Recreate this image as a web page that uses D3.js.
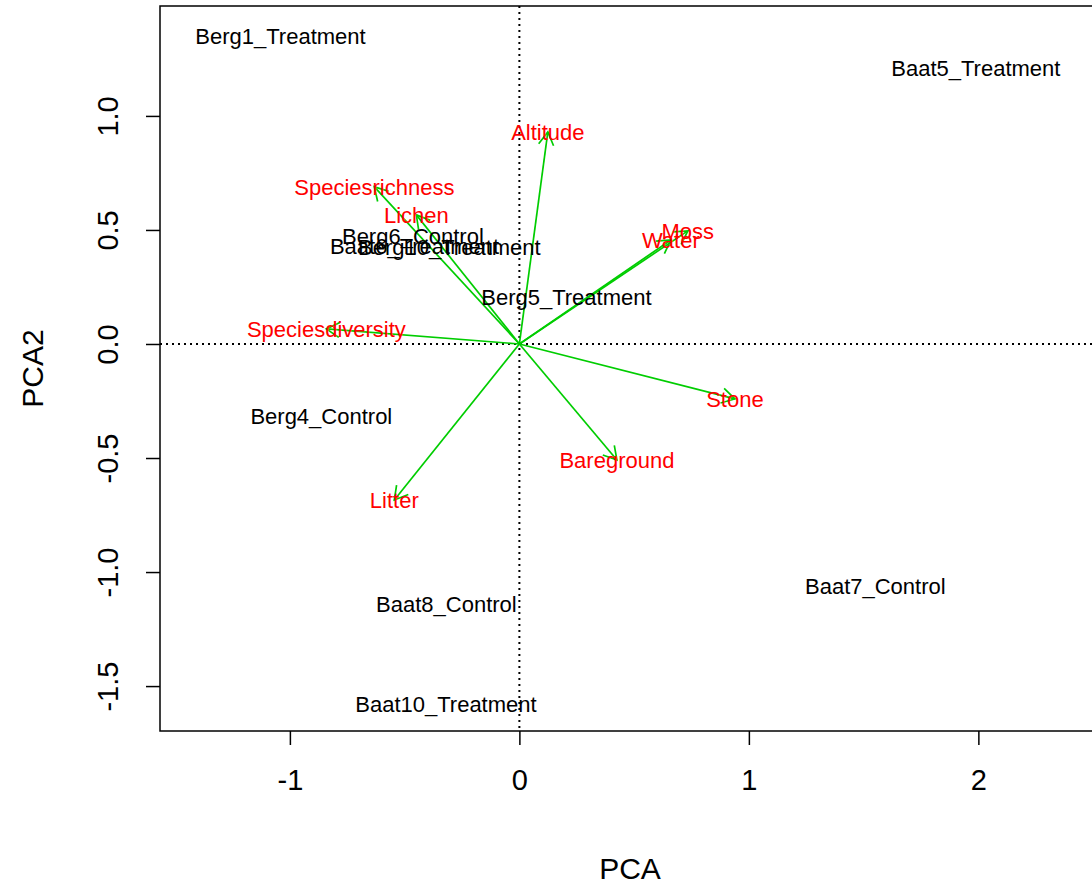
<!DOCTYPE html>
<html>
<head>
<meta charset="utf-8">
<script src="https://cdn.jsdelivr.net/npm/d3@7"></script>
<style>
  html, body { margin: 0; padding: 0; background: #fff; }
  svg { display: block; }
  text { font-family: "Liberation Sans", Arial, sans-serif; }
</style>
</head>
<body>
<svg id="chart" width="1092" height="887"></svg>
<script>
// Site scores (first two principal components)
const sites = ["Berg1_Treatment", "Baat5_Treatment", "Berg6_Control", "Baat6_Treatment",
               "Berg10_Treatment", "Berg5_Treatment", "Berg4_Control", "Baat8_Control",
               "Baat7_Control", "Baat10_Treatment"];
const siteX = [-1.041, 1.989, -0.464, -0.457, -0.305, 0.205, -0.863, -0.318, 1.551, -0.320];
const siteY = [1.350, 1.210, 0.474, 0.429, 0.424, 0.206, -0.316, -1.141, -1.062, -1.579];

// Variable loadings
const variables = ["Altitude", "Speciesrichness", "Lichen", "Moss", "Water",
                   "Speciesdiversity", "Stone", "Bareground", "Litter"];
const loadX = [0.124, -0.632, -0.449, 0.734, 0.660, -0.841, 0.939, 0.425, -0.545];
const loadY = [0.930, 0.689, 0.566, 0.496, 0.456, 0.066, -0.241, -0.509, -0.684];

const xTicks = [-1, 0, 1, 2];
const xTickLabels = ["-1", "0", "1", "2"];
const yTicks = [-1.5, -1.0, -0.5, 0.0, 0.5, 1.0];
const yTickLabels = ["-1.5", "-1.0", "-0.5", "0.0", "0.5", "1.0"];

const plot = { left: 160, right: 1100, top: 6, bottom: 731 };

const x = d3.scaleLinear().domain([-1.566, 2.530]).range([plot.left, plot.right]);
const y = d3.scaleLinear().domain([-1.697, 1.482]).range([plot.bottom, plot.top]);

const svg = d3.select("#chart");

// reference lines through the origin
svg.append("line")
  .attr("x1", x(0)).attr("x2", x(0))
  .attr("y1", plot.top).attr("y2", plot.bottom)
  .attr("stroke", "#000").attr("stroke-width", 2)
  .attr("stroke-dasharray", "2,4");
svg.append("line")
  .attr("x1", plot.left).attr("x2", plot.right)
  .attr("y1", y(0)).attr("y2", y(0))
  .attr("stroke", "#000").attr("stroke-width", 2)
  .attr("stroke-dasharray", "2,4");

// loading arrows
const arrows = svg.append("g").attr("stroke", "#00CD00").attr("stroke-width", 1.7).attr("fill", "none");
const headLen = 15, headAng = Math.PI / 6;
variables.forEach((v, i) => {
  const x0 = x(0), y0 = y(0), x1 = x(loadX[i]), y1 = y(loadY[i]);
  arrows.append("line").attr("x1", x0).attr("y1", y0).attr("x2", x1).attr("y2", y1);
  const a = Math.atan2(y1 - y0, x1 - x0);
  const p1 = [x1 - headLen * Math.cos(a - headAng), y1 - headLen * Math.sin(a - headAng)];
  const p2 = [x1 - headLen * Math.cos(a + headAng), y1 - headLen * Math.sin(a + headAng)];
  arrows.append("path").attr("d", `M${p1[0]},${p1[1]}L${x1},${y1}L${p2[0]},${p2[1]}`);
});

// site labels
svg.append("g").selectAll("text").data(sites).join("text")
  .attr("x", (d, i) => x(siteX[i]))
  .attr("y", (d, i) => y(siteY[i]))
  .attr("dy", "0.35em")
  .attr("text-anchor", "middle")
  .attr("font-size", 22)
  .attr("fill", "#000")
  .text(d => d);

// variable labels
svg.append("g").selectAll("text").data(variables).join("text")
  .attr("x", (d, i) => x(loadX[i]))
  .attr("y", (d, i) => y(loadY[i]))
  .attr("dy", "0.35em")
  .attr("text-anchor", "middle")
  .attr("font-size", 22)
  .attr("fill", "#FF0000")
  .text(d => d);

// plot frame
svg.append("rect")
  .attr("x", plot.left).attr("y", plot.top)
  .attr("width", plot.right - plot.left).attr("height", plot.bottom - plot.top)
  .attr("fill", "none").attr("stroke", "#000").attr("stroke-width", 1.5);

// axes
const xAxis = svg.append("g")
  .attr("transform", `translate(0,${plot.bottom})`)
  .call(d3.axisBottom(x).tickValues(xTicks).tickFormat((d, i) => xTickLabels[i]).tickSize(14).tickPadding(24));
const yAxis = svg.append("g")
  .attr("transform", `translate(${plot.left},0)`)
  .call(d3.axisLeft(y).tickValues(yTicks).tickFormat((d, i) => yTickLabels[i]).tickSize(14).tickPadding(14));

[xAxis, yAxis].forEach(g => {
  g.select(".domain").remove();
  g.selectAll(".tick line").attr("stroke", "#000").attr("stroke-width", 1.5);
  g.selectAll(".tick text").attr("font-size", 29).attr("fill", "#000")
    .attr("font-family", "'Liberation Sans', Arial, sans-serif");
});
xAxis.selectAll(".tick text").attr("dy", "0.71em");
yAxis.selectAll(".tick text")
  .attr("text-anchor", "middle")
  .attr("dy", "0")
  .attr("x", 0).attr("y", 0)
  .attr("transform", "translate(-42,0) rotate(-90)");

// axis titles
svg.append("text")
  .attr("x", (plot.left + plot.right) / 2).attr("y", 868)
  .attr("dy", "0.35em")
  .attr("text-anchor", "middle").attr("font-size", 30).attr("fill", "#000")
  .text("PCA");
svg.append("text")
  .attr("transform", `translate(32,${(plot.top + plot.bottom) / 2}) rotate(-90)`)
  .attr("dy", "0.35em")
  .attr("text-anchor", "middle").attr("font-size", 30).attr("fill", "#000")
  .text("PCA2");
</script>
</body>
</html>
